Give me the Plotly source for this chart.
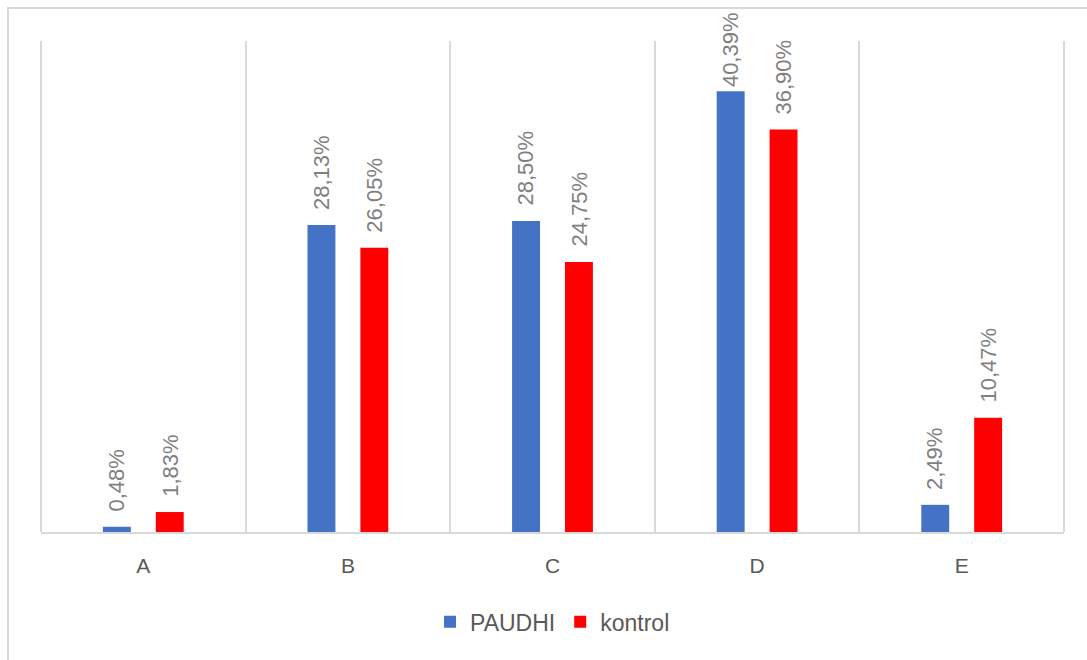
import plotly.graph_objects as go

# Data
categories = ["A", "B", "C", "D", "E"]
paudhi = [0.48, 28.13, 28.50, 40.39, 2.49]
kontrol = [1.83, 26.05, 24.75, 36.90, 10.47]

series = [
    ("PAUDHI", paudhi, "#4472C4", -26.5),
    ("kontrol", kontrol, "#FF0000", 26.5),
]

W, H = 1087, 660
L, R, T, B = 41, 23, 41, 128
Y_MAX = 45
GRID = "#D9D9D9"
LABEL_GREY = "#7F7F7F"
FONT = "Liberation Sans, Arial, sans-serif"
LABEL_SIZE = 22
LABEL_GAP = 13          # px between bar top and its label
LABEL_LEN = 75          # approx. rendered length of a rotated label, px
LABEL_TOP_LIMIT = 14    # labels are kept inside the chart frame

pw = W - L - R
ph = H - T - B

fig = go.Figure()
for name, vals, color, _ in series:
    fig.add_trace(go.Bar(
        x=categories, y=vals, name=name,
        marker=dict(color=color, line=dict(width=0)),
        hoverinfo="x+y+name",
    ))

# Rotated value labels above each bar; pulled down when they would leave the frame
annotations = []
for name, vals, color, dx in series:
    for cat, v in zip(categories, vals):
        bar_top_px = T + ph * (1 - v / Y_MAX)
        shift = min(LABEL_GAP, bar_top_px - LABEL_LEN - LABEL_TOP_LIMIT)
        annotations.append(dict(
            x=cat, y=v, xref="x", yref="y",
            text=f"{v:.2f}".replace(".", ",") + "%",
            textangle=-90, showarrow=False,
            xanchor="center", yanchor="bottom",
            xshift=dx, yshift=shift,
            font=dict(family=FONT, size=LABEL_SIZE, color=LABEL_GREY),
        ))

shapes = [
    # Chart frame (left and top edges visible, rest runs off the page)
    dict(
        type="rect", xref="paper", yref="paper",
        x0=(8 - L) / pw, x1=(W + 10 - L) / pw,
        y0=-(H + 10 - T - ph) / ph, y1=(ph + T - 8) / ph,
        line=dict(color=GRID, width=2), fillcolor="rgba(0,0,0,0)", layer="below",
    ),
    # Category boundary lines at the outer edges of the plot area
    dict(type="line", xref="paper", yref="paper", x0=0, x1=0, y0=0, y1=1,
         line=dict(color=GRID, width=2), layer="below"),
    dict(type="line", xref="paper", yref="paper", x0=1, x1=1, y0=0, y1=1,
         line=dict(color=GRID, width=2), layer="below"),
]

fig.update_layout(
    width=W, height=H,
    margin=dict(l=L, r=R, t=T, b=B, autoexpand=False),
    paper_bgcolor="white", plot_bgcolor="white",
    barmode="group", bargap=0.483, bargroupgap=0.472,
    font=dict(family=FONT, color="#595959"),
    annotations=annotations,
    shapes=shapes,
    legend=dict(
        orientation="h", x=0.5, xanchor="center",
        y=-0.183, yanchor="middle",
        font=dict(family=FONT, size=23, color="#595959"),
        itemwidth=30, traceorder="normal",
    ),
    xaxis=dict(
        type="category", tickson="boundaries",
        showgrid=True, gridcolor=GRID, gridwidth=2,
        showline=True, linecolor=GRID, linewidth=2,
        ticks="", ticklen=0, ticklabelstandoff=14,
        tickfont=dict(family=FONT, size=21, color="#595959"),
        range=[-0.5, 4.5],
    ),
    yaxis=dict(
        range=[0, Y_MAX], showgrid=False, showticklabels=False,
        zeroline=False, showline=False, ticks="",
    ),
)

fig.write_html("out.html")
